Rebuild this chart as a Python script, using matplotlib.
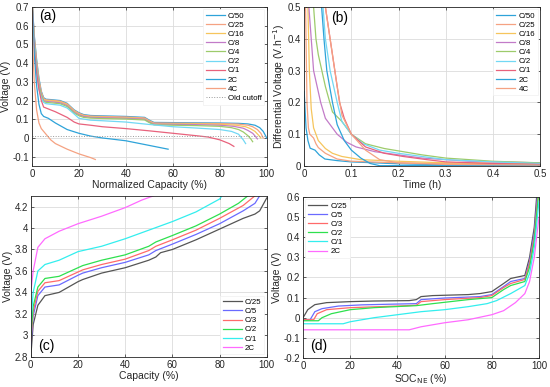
import numpy as np
import matplotlib
matplotlib.use('Agg')
import matplotlib.pyplot as plt

plt.rcParams['font.family'] = ['Liberation Sans', 'DejaVu Sans']

# ---------- (a) voltage vs normalized capacity ----------
a_labels = ['C/50', 'C/25', 'C/16', 'C/8', 'C/4', 'C/2', 'C/1', '2C', '4C']
a_x = {
    'C/50': [0, 1, 2, 3, 4, 5, 6, 8, 12, 15, 18, 20, 22, 25, 30, 40, 48, 50, 52, 60, 70, 80, 88, 92, 95, 97, 98.5, 100],
    'C/25': [0, 1, 2, 3, 4, 5, 6, 8, 12, 15, 18, 20, 22, 25, 30, 40, 48, 50, 52, 60, 70, 80, 88, 92, 94, 96, 97.5, 98.5],
    'C/16': [0, 1, 2, 3, 4, 5, 6, 8, 12, 15, 18, 20, 22, 25, 30, 40, 48, 50, 52, 60, 70, 80, 87, 91, 93, 95, 96.5, 97.5],
    'C/8':  [0, 1, 2, 3, 4, 5, 6, 8, 12, 15, 18, 20, 22, 25, 30, 40, 48, 50, 52, 60, 70, 80, 86, 90, 92, 94, 95.2, 96],
    'C/4':  [0, 1, 2, 3, 4, 5, 6, 8, 12, 15, 18, 20, 22, 25, 30, 40, 48, 50, 52, 60, 70, 80, 85, 88, 90, 92, 93.2, 94],
    'C/2':  [0, 1, 2, 3, 4, 5, 6, 12, 15, 18, 20, 25, 30, 40, 50, 60, 70, 80, 85, 88, 90, 91],
    'C/1':  [0, 1, 2, 3, 4, 5, 7, 10, 15, 18, 20, 25, 30, 40, 50, 60, 70, 75, 80, 84, 86],
    '2C':   [0, 1, 2, 3, 4, 5, 7, 10, 15, 20, 25, 30, 40, 50, 58],
    '4C':   [0, 0.5, 1, 2, 3, 4, 6, 8, 10, 15, 20, 25, 27],
}
a_y = {
    'C/50': [0.75, 0.55, 0.42, 0.32, 0.25, 0.215, 0.207, 0.205, 0.200, 0.185, 0.150, 0.135, 0.125, 0.120, 0.118, 0.115, 0.110, 0.095, 0.083, 0.082, 0.081, 0.080, 0.078, 0.075, 0.068, 0.055, 0.035, 0.0],
    'C/25': [0.75, 0.54, 0.41, 0.31, 0.245, 0.210, 0.204, 0.202, 0.197, 0.182, 0.147, 0.132, 0.122, 0.117, 0.115, 0.112, 0.107, 0.092, 0.080, 0.079, 0.078, 0.077, 0.074, 0.068, 0.060, 0.045, 0.025, 0.0],
    'C/16': [0.75, 0.53, 0.40, 0.30, 0.240, 0.205, 0.200, 0.198, 0.193, 0.178, 0.143, 0.128, 0.118, 0.113, 0.111, 0.108, 0.103, 0.088, 0.077, 0.076, 0.075, 0.073, 0.068, 0.060, 0.050, 0.035, 0.015, 0.0],
    'C/8':  [0.75, 0.52, 0.39, 0.29, 0.235, 0.200, 0.195, 0.193, 0.188, 0.173, 0.138, 0.124, 0.115, 0.110, 0.108, 0.105, 0.100, 0.085, 0.074, 0.073, 0.071, 0.068, 0.062, 0.052, 0.040, 0.025, 0.008, -0.005],
    'C/4':  [0.75, 0.51, 0.38, 0.28, 0.228, 0.195, 0.190, 0.188, 0.183, 0.168, 0.133, 0.119, 0.110, 0.106, 0.104, 0.101, 0.096, 0.082, 0.070, 0.068, 0.066, 0.062, 0.055, 0.045, 0.032, 0.012, -0.005, -0.02],
    'C/2':  [0.75, 0.50, 0.36, 0.26, 0.215, 0.190, 0.183, 0.175, 0.160, 0.128, 0.105, 0.095, 0.092, 0.085, 0.072, 0.060, 0.053, 0.045, 0.035, 0.020, -0.010, -0.030],
    'C/1':  [0.75, 0.48, 0.35, 0.26, 0.200, 0.165, 0.155, 0.140, 0.110, 0.085, 0.075, 0.068, 0.060, 0.050, 0.038, 0.025, 0.012, 0.005, -0.010, -0.030, -0.045],
    '2C':   [0.75, 0.45, 0.28, 0.18, 0.130, 0.115, 0.105, 0.080, 0.045, 0.025, 0.010, 0.0, -0.015, -0.040, -0.060],
    '4C':   [0.75, 0.45, 0.30, 0.15, 0.080, 0.050, 0.020, -0.010, -0.030, -0.060, -0.085, -0.105, -0.115],
}
old_cutoff = 0.01

# ---------- (b) differential voltage vs time ----------
b_labels = a_labels
b_t = {
    'C/50': [0, 0.004, 0.008, 0.0127, 0.023, 0.032, 0.044, 0.07, 0.1, 0.2, 0.3, 0.4, 0.5],
    'C/25': [0.003, 0.006, 0.009, 0.012, 0.02, 0.025, 0.03, 0.045, 0.07, 0.1, 0.2, 0.3, 0.5],
    'C/16': [0.008, 0.011, 0.015, 0.02, 0.03, 0.045, 0.06, 0.08, 0.12, 0.2, 0.3, 0.5],
    'C/8':  [0.01, 0.015, 0.02, 0.035, 0.045, 0.07, 0.09, 0.11, 0.15, 0.2, 0.25, 0.35, 0.5],
    'C/4':  [0.02, 0.025, 0.03, 0.045, 0.06, 0.08, 0.1, 0.13, 0.17, 0.21, 0.25, 0.3, 0.4, 0.5],
    'C/2':  [0.04, 0.045, 0.055, 0.07, 0.08, 0.1, 0.125, 0.16, 0.2, 0.25, 0.3, 0.4, 0.5],
    'C/1':  [0.045, 0.055, 0.065, 0.075, 0.085, 0.1, 0.13, 0.17, 0.21, 0.26, 0.3, 0.4, 0.5],
    '2C':   [0.037, 0.042, 0.048, 0.06, 0.07, 0.085, 0.1, 0.12, 0.14, 0.16, 0.3, 0.5],
    '4C':   [0.045, 0.05, 0.06, 0.07, 0.08, 0.1, 0.13, 0.16, 0.2, 0.3, 0.5],
}
b_v = {
    'C/50': [0.234, 0.12, 0.08, 0.056, 0.05, 0.035, 0.022, 0.017, 0.013, 0.007, 0.004, 0.004, 0.005],
    'C/25': [0.5, 0.2, 0.12, 0.1, 0.088, 0.07, 0.058, 0.04, 0.022, 0.015, 0.01, 0.008, 0.007],
    'C/16': [0.5, 0.3, 0.18, 0.12, 0.08, 0.055, 0.04, 0.03, 0.02, 0.015, 0.01, 0.008],
    'C/8':  [0.5, 0.4, 0.3, 0.2, 0.15, 0.1, 0.075, 0.06, 0.045, 0.035, 0.025, 0.015, 0.01],
    'C/4':  [0.5, 0.4, 0.35, 0.25, 0.17, 0.14, 0.1, 0.07, 0.055, 0.045, 0.035, 0.025, 0.015, 0.01],
    'C/2':  [0.5, 0.4, 0.3, 0.2, 0.14, 0.1, 0.07, 0.05, 0.04, 0.03, 0.02, 0.013, 0.008],
    'C/1':  [0.5, 0.4, 0.3, 0.2, 0.15, 0.1, 0.06, 0.04, 0.03, 0.02, 0.013, 0.008, 0.005],
    '2C':   [0.5, 0.4, 0.3, 0.2, 0.13, 0.08, 0.05, 0.025, 0.008, 0.001, 0.002, 0.002],
    '4C':   [0.5, 0.45, 0.35, 0.25, 0.16, 0.1, 0.05, 0.02, 0.01, 0.005, 0.003],
}
ab_colors = ['#2ea3d9', '#f5a282', '#f6c55c', '#c27bc8', '#9dcb6b',
             '#72d8f4', '#e8627c', '#2ea3d9', '#f5a282']

# ---------- (c) full-cell voltage vs capacity ----------
cd_labels = ['C/25', 'C/5', 'C/3', 'C/2', 'C/1', '2C']
c_x = {
    'C/25': [0, 1, 3, 6, 12, 20, 22, 30, 40, 50, 53, 55, 60, 70, 80, 90, 95, 97, 100],
    'C/5':  [0, 1, 3, 6, 12, 20, 22, 30, 40, 50, 53, 60, 70, 80, 90, 95, 97],
    'C/3':  [0, 1, 3, 6, 12, 20, 22, 30, 40, 50, 53, 60, 70, 80, 90, 95],
    'C/2':  [0, 1, 3, 6, 12, 20, 22, 30, 40, 50, 53, 60, 70, 80, 88, 92],
    'C/1':  [0, 1, 3, 6, 12, 20, 30, 40, 50, 60, 70, 80, 81],
    '2C':   [0, 1, 3, 6, 12, 20, 30, 40, 47, 52],
}
c_y = {
    'C/25': [2.80, 3.10, 3.28, 3.37, 3.40, 3.50, 3.52, 3.58, 3.63, 3.70, 3.73, 3.77, 3.80, 3.89, 3.99, 4.09, 4.13, 4.16, 4.28],
    'C/5':  [2.90, 3.18, 3.37, 3.45, 3.47, 3.56, 3.58, 3.63, 3.68, 3.75, 3.79, 3.85, 3.94, 4.04, 4.16, 4.23, 4.30],
    'C/3':  [2.95, 3.22, 3.41, 3.49, 3.51, 3.59, 3.61, 3.66, 3.71, 3.79, 3.83, 3.89, 3.98, 4.09, 4.21, 4.30],
    'C/2':  [3.00, 3.27, 3.45, 3.53, 3.55, 3.63, 3.65, 3.70, 3.75, 3.83, 3.87, 3.93, 4.02, 4.13, 4.23, 4.30],
    'C/1':  [3.10, 3.40, 3.60, 3.66, 3.70, 3.78, 3.83, 3.90, 3.98, 4.06, 4.15, 4.27, 4.30],
    '2C':   [3.40, 3.60, 3.82, 3.90, 3.97, 4.04, 4.11, 4.19, 4.26, 4.30],
}

# ---------- (d) negative electrode voltage vs SOC ----------
d_x = {
    'C/25': [0, 2, 5, 10, 20, 30, 45, 48, 50, 55, 70, 75, 80, 85, 88, 92, 94, 96, 98, 99],
    'C/5':  [0, 3, 5, 8, 15, 25, 40, 48, 50, 60, 75, 80, 85, 88, 94, 96, 98, 99.3],
    'C/3':  [0, 4.5, 6, 10, 20, 40, 48, 50, 60, 75, 80, 85, 88, 94, 96, 98, 99.5],
    'C/2':  [0, 6.5, 8, 12, 20, 30, 48, 55, 70, 80, 85, 88, 94, 96, 98, 99.7],
    'C/1':  [0, 17, 20, 30, 40, 50, 60, 70, 78, 82, 88, 94, 96, 98, 100],
    '2C':   [0, 45, 50, 60, 70, 80, 85, 90, 94, 96, 98, 100],
}
d_y = {
    'C/25': [0.0, 0.04, 0.065, 0.075, 0.08, 0.083, 0.085, 0.09, 0.105, 0.11, 0.115, 0.12, 0.13, 0.17, 0.195, 0.205, 0.21, 0.30, 0.45, 0.60],
    'C/5':  [-0.01, -0.01, 0.03, 0.045, 0.058, 0.064, 0.068, 0.07, 0.09, 0.098, 0.105, 0.115, 0.155, 0.18, 0.195, 0.28, 0.42, 0.60],
    'C/3':  [-0.01, -0.01, 0.02, 0.04, 0.05, 0.058, 0.062, 0.08, 0.09, 0.10, 0.11, 0.15, 0.17, 0.19, 0.27, 0.40, 0.60],
    'C/2':  [-0.015, -0.015, 0.0, 0.02, 0.04, 0.05, 0.06, 0.07, 0.09, 0.10, 0.14, 0.16, 0.18, 0.25, 0.38, 0.60],
    'C/1':  [-0.03, -0.03, -0.02, 0.0, 0.015, 0.03, 0.04, 0.055, 0.07, 0.085, 0.12, 0.16, 0.22, 0.35, 0.58],
    '2C':   [-0.06, -0.06, -0.045, -0.025, -0.01, 0.015, 0.035, 0.075, 0.12, 0.18, 0.30, 0.50],
}
cd_colors = ['#555555', '#6a6aff', '#ff6a6a', '#2ee04e', '#33eeee', '#ff6aff']


def style_axes(ax, xlim, ylim, xticks, yticks, xlabel, ylabel):
    ax.set_xlim(*xlim)
    ax.set_ylim(*ylim)
    ax.set_xticks(xticks)
    ax.set_yticks(yticks)
    ax.set_xticklabels(['%g' % round(v, 2) for v in xticks])
    ax.set_yticklabels(['%g' % round(v, 2) for v in yticks])
    ax.grid(True, color='#dcdcdc', linewidth=0.6)
    ax.set_axisbelow(True)
    ax.tick_params(direction='in', top=True, right=True, length=2.5,
                   width=0.5, labelsize=7, colors='#262626', pad=2)
    for s in ax.spines.values():
        s.set_color('#262626')
        s.set_linewidth(0.6)
    ax.set_xlabel(xlabel, fontsize=7.5, color='#262626', labelpad=1)
    ax.set_ylabel(ylabel, fontsize=7.5, color='#262626', labelpad=1)


def add_legend(ax, loc):
    leg = ax.legend(loc=loc, fontsize=5.7, handlelength=2.4, handletextpad=0.4,
                    labelspacing=0.2, borderpad=0.35, borderaxespad=0.3,
                    frameon=True, fancybox=False, framealpha=1)
    leg.get_frame().set_edgecolor('#f0f0f0')
    leg.get_frame().set_linewidth(0.5)


fig = plt.figure(figsize=(5.5, 3.87), dpi=100)
ax_a = fig.add_axes([0.058, 0.571, 0.427, 0.411])
ax_b = fig.add_axes([0.553, 0.571, 0.429, 0.411])
ax_c = fig.add_axes([0.056, 0.078, 0.429, 0.416])
ax_d = fig.add_axes([0.551, 0.075, 0.429, 0.416])

# (a)
for lab, col in zip(a_labels, ab_colors):
    ax_a.plot(a_x[lab], a_y[lab], color=col, lw=0.9, label=lab)
ax_a.plot([0, 100], [old_cutoff, old_cutoff], color='#9a9a9a', lw=0.7,
          linestyle=':', label='Old cutoff')
style_axes(ax_a, (0, 100), (-0.15, 0.7), np.arange(0, 101, 20),
           np.round(np.arange(-0.1, 0.71, 0.1), 1),
           'Normalized Capacity (%)', 'Voltage (V)')
ax_a.text(3, 0.65, '(a)', fontsize=10, va='center')
add_legend(ax_a, 'upper right')

# (b)
for lab, col in zip(b_labels, ab_colors):
    ax_b.plot(b_t[lab], b_v[lab], color=col, lw=0.9, label=lab)
style_axes(ax_b, (0, 0.5), (0, 0.5), np.round(np.arange(0, 0.51, 0.1), 1),
           np.round(np.arange(0, 0.51, 0.1), 1),
           'Time (h)', 'Differential Voltage (V.h$^{-1}$)')
ax_b.text(0.058, 0.465, '(b)', fontsize=10, va='center')
add_legend(ax_b, 'upper right')

# (c)
for lab, col in zip(cd_labels, cd_colors):
    ax_c.plot(c_x[lab], c_y[lab], color=col, lw=0.9, label=lab)
style_axes(ax_c, (0, 100), (2.8, 4.3), np.arange(0, 101, 20),
           np.round(np.arange(2.8, 4.21, 0.2), 1),
           'Capacity (%)', 'Voltage (V)')
ax_c.text(3, 2.9, '(c)', fontsize=10, va='center')
add_legend(ax_c, 'lower right')

# (d)
for lab, col in zip(cd_labels, cd_colors):
    ax_d.plot(d_x[lab], d_y[lab], color=col, lw=0.9, label=lab)
style_axes(ax_d, (0, 100), (-0.2, 0.6), np.arange(0, 101, 20),
           np.round(np.arange(-0.2, 0.61, 0.1), 1),
           'SOC$_{\\mathrm{NE}}$ (%)', 'Voltage (V)')
ax_d.text(3, -0.14, '(d)', fontsize=10, va='center')
add_legend(ax_d, 'upper left')

fig.savefig('out.png', dpi=100)
